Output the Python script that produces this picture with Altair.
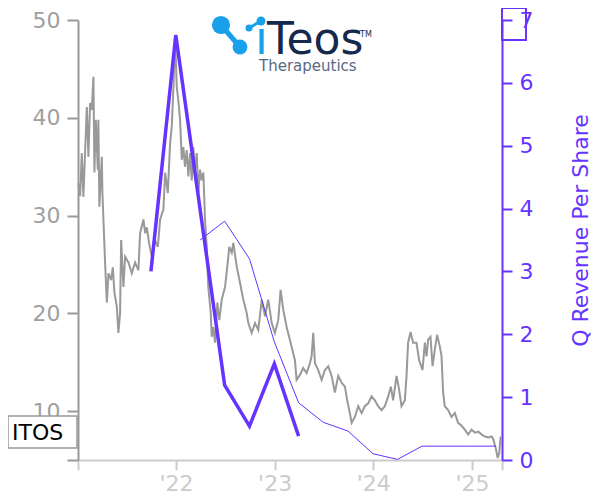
import altair as alt
import pandas as pd

# ---- data ----
price_year = [
    2021.010, 2021.027, 2021.044, 2021.060, 2021.095, 2021.111, 2021.128, 2021.145, 2021.162, 2021.172,
    2021.186, 2021.206, 2021.212, 2021.222, 2021.247, 2021.253, 2021.280, 2021.298, 2021.314, 2021.341,
    2021.358, 2021.375, 2021.399, 2021.415, 2021.432, 2021.443, 2021.466, 2021.483, 2021.517, 2021.551,
    2021.584, 2021.618, 2021.635, 2021.669, 2021.686, 2021.703, 2021.726, 2021.754, 2021.787, 2021.815,
    2021.838, 2021.871, 2021.889, 2021.916, 2021.939, 2021.956, 2021.973, 2021.982, 2021.990, 2022.007,
    2022.023, 2022.041, 2022.058, 2022.074, 2022.091, 2022.108, 2022.125, 2022.142, 2022.159, 2022.175,
    2022.193, 2022.210, 2022.226, 2022.243, 2022.260, 2022.277, 2022.294, 2022.311, 2022.327, 2022.352,
    2022.362, 2022.378, 2022.395, 2022.419, 2022.439, 2022.463, 2022.497, 2022.520, 2022.540, 2022.565,
    2022.581, 2022.615, 2022.649, 2022.682, 2022.717, 2022.733, 2022.767, 2022.801, 2022.834, 2022.869,
    2022.902, 2022.935, 2022.970, 2023.003, 2023.037, 2023.061, 2023.087, 2023.122, 2023.155, 2023.189,
    2023.206, 2023.223, 2023.257, 2023.290, 2023.325, 2023.358, 2023.375, 2023.392, 2023.409, 2023.442,
    2023.477, 2023.510, 2023.544, 2023.578, 2023.611, 2023.645, 2023.679, 2023.713, 2023.736, 2023.763,
    2023.781, 2023.814, 2023.848, 2023.882, 2023.915, 2023.949, 2023.983, 2024.017, 2024.050, 2024.085,
    2024.118, 2024.152, 2024.179, 2024.202, 2024.237, 2024.263, 2024.287, 2024.321, 2024.338, 2024.354,
    2024.379, 2024.405, 2024.439, 2024.466, 2024.500, 2024.524, 2024.541, 2024.557, 2024.581, 2024.602,
    2024.625, 2024.648, 2024.676, 2024.693, 2024.709, 2024.726, 2024.760, 2024.794, 2024.828, 2024.861,
    2024.896, 2024.929, 2024.963, 2024.997, 2025.030, 2025.064, 2025.098, 2025.132, 2025.165, 2025.199,
    2025.216, 2025.243, 2025.260, 2025.276, 2025.290,
]
price_value = [
    33.3, 32.0, 36.4, 31.9, 41.1, 36.0, 41.5, 40.8, 44.2, 34.4,
    39.8, 34.7, 39.8, 30.9, 36.0, 32.3, 25.2, 21.1, 24.1, 23.4,
    24.7, 22.1, 20.7, 18.0, 20.0, 27.5, 22.7, 25.8, 25.2, 24.1,
    25.2, 24.4, 28.2, 29.6, 28.2, 28.8, 27.2, 25.8, 27.5, 26.8,
    29.6, 30.6, 34.4, 32.3, 37.4, 39.1, 43.1, 45.9, 48.3, 43.2,
    41.8, 39.8, 35.7, 37.0, 35.0, 36.7, 34.0, 36.4, 33.6, 37.0,
    34.7, 36.4, 32.3, 34.7, 33.6, 34.4, 29.6, 26.8, 22.7, 20.0,
    17.6, 18.6, 17.0, 21.1, 19.3, 21.4, 22.7, 24.8, 26.8, 26.2,
    27.2, 24.8, 23.1, 21.4, 20.0, 19.0, 18.0, 19.0, 18.3, 21.4,
    19.7, 21.4, 19.0, 18.0, 19.3, 22.4, 20.4, 18.6, 17.3, 15.9,
    15.2, 13.2, 13.7, 14.4, 13.9, 14.9, 15.6, 18.0, 14.9, 14.2,
    13.2, 14.2, 14.6, 13.6, 11.9, 13.6, 12.9, 12.5, 11.1, 9.8,
    8.8, 9.4, 10.5, 9.8, 10.5, 10.8, 11.5, 11.1, 10.5, 10.1,
    10.5, 11.5, 12.5, 11.1, 13.6, 12.2, 10.5, 11.1, 13.6, 17.0,
    18.1, 17.0, 17.0, 15.2, 14.2, 17.0, 15.6, 17.3, 17.6, 14.6,
    16.3, 17.8, 16.6, 15.6, 11.9, 10.5, 10.1, 9.4, 9.8, 8.8,
    8.5, 8.1, 7.6, 8.1, 7.8, 7.9, 7.6, 7.4, 7.3, 7.4,
    7.1, 6.1, 5.2, 5.7, 7.4,
]

rev_thick_dates = ["2021-09-30", "2021-12-31", "2022-06-30", "2022-09-30", "2022-12-31", "2023-03-31"]
rev_thick_values = [3.00, 6.76, 1.19, 0.54, 1.53, 0.38]

rev_thin_dates = ["2022-03-31", "2022-06-30", "2022-09-30", "2022-12-31", "2023-03-31", "2023-06-30",
                  "2023-09-30", "2023-12-31", "2024-03-31", "2024-06-30", "2024-09-30", "2024-12-31",
                  "2025-03-31"]
rev_thin_values = [3.50, 3.80, 3.20, 1.88, 0.91, 0.60, 0.46, 0.10, 0.01, 0.22, 0.22, 0.22, 0.22]

x_tick_dates = ["2021-01-03", "2022-01-01", "2023-01-01", "2024-01-01", "2025-01-01", "2025-04-22"]
left_ticks = [5, 10, 20, 30, 40, 50]
right_ticks = [0, 1, 2, 3, 4, 5, 6, 7]

ticker = "ITOS"
right_title = "Q Revenue Per Share"

# ---- tables ----
def year_to_ts(y):
    yi = int(y)
    return pd.Timestamp(year=yi, month=1, day=1) + pd.Timedelta(days=(y - yi) * 365.25)

price_df = pd.DataFrame({"date": [year_to_ts(y) for y in price_year], "price": price_value})
thick_df = pd.DataFrame({"date": pd.to_datetime(rev_thick_dates), "rev": rev_thick_values})
thin_df = pd.DataFrame({"date": pd.to_datetime(rev_thin_dates), "rev": rev_thin_values})

PURPLE = "#6633ff"
GRAY = "#999999"
LIGHT = "#cccccc"
FONT = "DejaVu Sans"

def dt(s):
    t = pd.Timestamp(s)
    return alt.DateTime(year=t.year, month=t.month, date=t.day)

x_axis = alt.Axis(
    values=[dt(s) for s in x_tick_dates],
    labelExpr="month(datum.value) == 0 && date(datum.value) == 1 ? timeFormat(datum.value, \"'%y\") : ''",
    domainColor=LIGHT, domainWidth=2, tickColor=LIGHT, tickWidth=2, tickSize=10,
    labelColor=LIGHT, labelFontSize=22, labelFont=FONT, labelPadding=3, grid=False, title=None,
)
x_scale = alt.Scale(domain=[dt(x_tick_dates[0]), dt(x_tick_dates[-1])])

def xenc():
    return alt.X("date:T", scale=x_scale, axis=x_axis, title=None)

gray = alt.Chart(price_df).mark_line(color=GRAY, strokeWidth=2).encode(
    x=xenc(),
    y=alt.Y("price:Q", scale=alt.Scale(domain=[5, 50], nice=False, zero=False),
            axis=alt.Axis(orient="left", values=left_ticks,
                          labelExpr="datum.value == 5 ? '' : datum.label",
                          domainColor=GRAY, domainWidth=2, tickColor=GRAY, tickWidth=2, tickSize=11,
                          labelColor="#a0a0a0", labelFontSize=22, labelFont=FONT, labelPadding=7,
                          grid=False, title=None)),
)

right_axis = alt.Axis(orient="right", values=right_ticks,
                      domainColor=PURPLE, domainWidth=2, tickColor=PURPLE, tickWidth=2, tickSize=10,
                      labelColor=PURPLE, labelFontSize=22, labelFont=FONT, labelPadding=7,
                      grid=False, title=right_title, titleColor=PURPLE, titleFontSize=22,
                      titleFont=FONT, titleFontWeight="normal", titleAngle=270, titlePadding=60,
                      titleY=210)
y_right = alt.Scale(domain=[0, 7], nice=False)

thick = alt.Chart(thick_df).mark_line(color=PURPLE, strokeWidth=3.5).encode(
    x=xenc(), y=alt.Y("rev:Q", scale=y_right, axis=right_axis, title=right_title))
thin = alt.Chart(thin_df).mark_line(color=PURPLE, strokeWidth=1).encode(
    x=xenc(), y=alt.Y("rev:Q", scale=y_right, axis=right_axis, title=right_title))
purple = alt.layer(thick, thin)

one = alt.Data(values=[{"k": 1}])

itos_box = alt.Chart(one).mark_rect(fill="white", stroke="#999999", strokeWidth=1.5).encode(
    x=alt.value(-70), x2=alt.value(-1), y=alt.value(396), y2=alt.value(428))
itos_text = alt.Chart(one).mark_text(align="left", baseline="middle", fontSize=22, font=FONT,
                                     color="black").encode(
    x=alt.value(-66), y=alt.value(413), text=alt.value(ticker))
corner_box = alt.Chart(one).mark_rect(fill=None, stroke=PURPLE, strokeWidth=2).encode(
    x=alt.value(424), x2=alt.value(448), y=alt.value(-12), y2=alt.value(20))

BLUE = "#19a0ea"
NAVY = "#15294d"
link1 = alt.Chart(one).mark_rule(color=BLUE, strokeWidth=5).encode(
    x=alt.value(143), x2=alt.value(162), y=alt.value(5), y2=alt.value(27))
link2 = alt.Chart(one).mark_rule(color=BLUE, strokeWidth=3).encode(
    x=alt.value(171), x2=alt.value(183), y=alt.value(8), y2=alt.value(1))
c1 = alt.Chart(one).mark_circle(color=BLUE, opacity=1, size=330).encode(x=alt.value(143), y=alt.value(5))
c2 = alt.Chart(one).mark_circle(color=BLUE, opacity=1, size=220).encode(x=alt.value(162), y=alt.value(27))
c3 = alt.Chart(one).mark_circle(color=BLUE, opacity=1, size=50).encode(x=alt.value(171), y=alt.value(8))
c4 = alt.Chart(one).mark_circle(color=BLUE, opacity=1, size=80).encode(x=alt.value(183), y=alt.value(1))
logo_i = alt.Chart(one).mark_text(align="left", baseline="alphabetic", fontSize=46, font=FONT,
                                  color=BLUE).encode(x=alt.value(177), y=alt.value(34), text=alt.value("\u0131"))
logo_teos = alt.Chart(one).mark_text(align="left", baseline="alphabetic", fontSize=44, font=FONT,
                                     color=NAVY).encode(x=alt.value(189), y=alt.value(34), text=alt.value("Teos"))
logo_tm = alt.Chart(one).mark_text(align="left", baseline="alphabetic", fontSize=8, font=FONT,
                                   color=NAVY).encode(x=alt.value(282), y=alt.value(17), text=alt.value("TM"))
logo_sub = alt.Chart(one).mark_text(align="left", baseline="alphabetic", fontSize=15, font=FONT,
                                    color="#5a6884").encode(x=alt.value(181), y=alt.value(51),
                                                            text=alt.value("Therapeutics"))

chart = alt.layer(
    gray, purple,
    itos_box, itos_text, corner_box,
    link1, link2, c1, c2, c3, c4, logo_i, logo_teos, logo_tm, logo_sub,
).resolve_scale(y="independent").properties(
    width=424, height=440,
    autosize=alt.AutoSizeParams(type="none"),
    padding={"left": 70, "top": 12, "right": 90, "bottom": 40},
).configure_view(stroke=None)

chart.save("out.html", embed_options={"renderer": "svg", "actions": False})
